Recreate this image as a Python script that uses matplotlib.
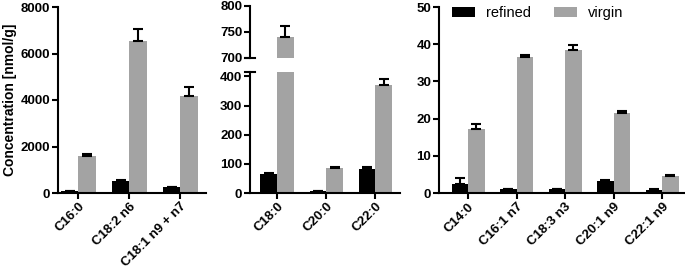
"""
Fatty acid concentrations in refined vs virgin oil, three panels.
The middle panel has a broken y axis (0-415 and 700-800).
"""
import matplotlib
matplotlib.use("Agg")
import matplotlib.pyplot as plt
import numpy as np

plt.rcParams['font.family'] = ['Liberation Sans', 'DejaVu Sans']
plt.rcParams['font.weight'] = 'bold'

# ---- data (nmol/g) ----
left_cats = ['C16:0', 'C18:2 n6', 'C18:1 n9 + n7']
left_refined = [80, 530, 240]
left_refined_err = [15, 40, 25]
left_virgin = [1610, 6550, 4170]
left_virgin_err = [50, 500, 370]

mid_cats = ['C18:0', 'C20:0', 'C22:0']
mid_refined = [66, 7, 84]
mid_refined_err = [3, 1, 4]
mid_virgin = [740, 85, 372]
mid_virgin_err = [22, 3, 18]

right_cats = ['C14:0', 'C16:1 n7', 'C18:3 n3', 'C20:1 n9', 'C22:1 n9']
right_refined = [2.4, 1.0, 1.1, 3.2, 0.8]
right_refined_err = [1.6, 0.2, 0.1, 0.2, 0.2]
right_virgin = [17.2, 36.5, 38.5, 21.5, 4.5]
right_virgin_err = [1.4, 0.5, 1.4, 0.6, 0.4]

BLACK = '#000000'
GREY = '#a3a3a3'
W = 0.34       # width of one bar
LW = 1.5       # spine / tick / error bar thickness
TICK_FS = 9.5
FW, FH = 685, 273


def px_box(x0, x1, y_top, y_bot):
    """axes rectangle from pixel edges (y measured from the top)"""
    return [x0 / FW, 1 - y_bot / FH, (x1 - x0) / FW, (y_bot - y_top) / FH]


def style_axis(ax):
    """GraphPad-like look: only left/bottom spines, thick outward ticks."""
    for side in ['top', 'right']:
        ax.spines[side].set_visible(False)
    for side in ['left', 'bottom']:
        ax.spines[side].set_linewidth(LW)
    ax.tick_params(axis='both', direction='out', length=4, width=LW,
                   labelsize=TICK_FS, pad=1.5)
    for lab in ax.get_yticklabels():
        lab.set_fontweight('bold')


def draw_bars(ax, cats, refined, refined_err, virgin, virgin_err):
    x = np.arange(len(cats))
    zeros = np.zeros(len(cats))
    b1 = ax.bar(x - W / 2, refined, W, color=BLACK, label='refined',
                yerr=[zeros, refined_err], capsize=3.5,
                error_kw=dict(elinewidth=LW, capthick=LW, ecolor='black'))
    b2 = ax.bar(x + W / 2, virgin, W, color=GREY, label='virgin',
                yerr=[zeros, virgin_err], capsize=3.5,
                error_kw=dict(elinewidth=LW, capthick=LW, ecolor='black'))
    ax.set_xticks(x)
    ax.set_xticklabels(cats, rotation=45, ha='right', rotation_mode='anchor',
                       fontsize=TICK_FS, fontweight='bold')
    return b1, b2


fig = plt.figure(figsize=(6.85, 2.73), dpi=100)

# ---- left panel ----
ax1 = fig.add_axes(px_box(58, 206, 7, 193))
draw_bars(ax1, left_cats, left_refined, left_refined_err, left_virgin, left_virgin_err)
ax1.set_ylim(0, 8000)
ax1.set_yticks([0, 2000, 4000, 6000, 8000])
ax1.set_xlim(-0.4, 2.5)
ax1.set_ylabel('Concentration [nmol/g]', fontsize=10, fontweight='bold', labelpad=3)
style_axis(ax1)

# ---- middle panel: broken axis ----
ax2_lo = fig.add_axes(px_box(250, 400, 72, 193))
ax2_hi = fig.add_axes(px_box(250, 400, 6, 58))
for ax in (ax2_lo, ax2_hi):
    draw_bars(ax, mid_cats, mid_refined, mid_refined_err, mid_virgin, mid_virgin_err)
    ax.set_xlim(-0.55, 2.5)
    style_axis(ax)
ax2_lo.set_ylim(0, 415)
ax2_lo.set_yticks([0, 100, 200, 300, 400])
ax2_hi.set_ylim(700, 800)
ax2_hi.set_yticks([700, 750, 800])
ax2_hi.spines['bottom'].set_visible(False)
ax2_hi.tick_params(axis='x', bottom=False, labelbottom=False)

# short marks across the spine at both ends of the break
d = 5 / 150
ax2_hi.plot([-d, d], [0, 0], transform=ax2_hi.transAxes, color='black',
            lw=LW, clip_on=False)
ax2_lo.plot([-d, d], [1, 1], transform=ax2_lo.transAxes, color='black',
            lw=LW, clip_on=False)

# ---- right panel ----
ax3 = fig.add_axes(px_box(439, 684, 7, 193))
draw_bars(ax3, right_cats, right_refined, right_refined_err, right_virgin, right_virgin_err)
ax3.set_ylim(0, 50)
ax3.set_yticks([0, 10, 20, 30, 40, 50])
ax3.set_xlim(-0.6, 4.45)
style_axis(ax3)
ax3.legend(loc='upper left', bbox_to_anchor=(0.0, 1.075), ncol=2, frameon=False,
           handlelength=1.6, handleheight=0.65, columnspacing=1.6, handletextpad=0.7,
           prop=dict(size=10.5, weight='normal'))

plt.savefig('out.png', dpi=100)
